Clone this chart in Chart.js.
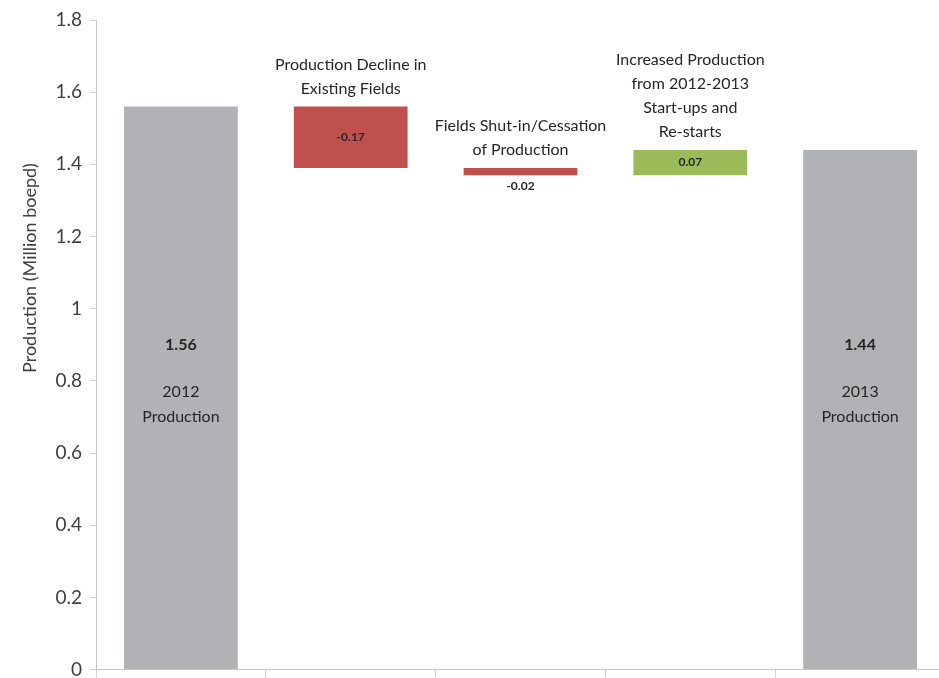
<!DOCTYPE html>
<html>
<head>
<meta charset="utf-8">
<script src="https://cdn.jsdelivr.net/npm/chart.js@4"></script>
<style>
  body { margin: 0; background: #fff; overflow: hidden; }
  #wrap { width: 939px; height: 678px; overflow: hidden; }
</style>
</head>
<body>
<div id="wrap"><canvas id="myChart" width="945" height="689"></canvas></div>
<script>
// data
const categories = [
    ['2012', 'Production'],
    ['Production Decline in', 'Existing Fields'],
    ['Fields Shut-in/Cessation', 'of Production'],
    ['Increased Production', 'from 2012-2013', 'Start-ups and', 'Re-starts'],
    ['2013', 'Production']
];
const startValue = 1.56;
const changes = [-0.17, -0.02, 0.07];
const endValue = 1.44;
const yTicks = [0, 0.2, 0.4, 0.6, 0.8, 1, 1.2, 1.4, 1.6, 1.8];

// build floating bars for the waterfall
let ranges = [[0, startValue]];
let running = startValue;
changes.forEach(c => {
    let next = Math.round((running + c) * 100) / 100;
    ranges.push([Math.min(running, next), Math.max(running, next)]);
    running = next;
});
ranges.push([0, endValue]);
const shown = [startValue].concat(changes, [endValue]);

const colors = shown.map((v, i) => {
    if (i == 0 || i == shown.length - 1) return '#b1b2b6';
    return v < 0 ? '#c0504d' : '#9bbb59';
});

const fontFam = 'Lato, "Noto Sans", sans-serif';

const labelPlugin = {
    id: 'labelPlugin',
    afterDatasetsDraw(chart) {
        const ctx = chart.ctx;
        const meta = chart.getDatasetMeta(0);
        const y = chart.scales.y;
        ctx.save();
        ctx.textAlign = 'center';
        ctx.textBaseline = 'middle';
        meta.data.forEach((bar, i) => {
            const top = Math.min(bar.y, bar.base);
            const bottom = Math.max(bar.y, bar.base);
            ctx.fillStyle = '#262626';
            if (i == 0 || i == meta.data.length - 1) {
                const ny = y.getPixelForValue(0.9);
                ctx.font = 'bold 16px ' + fontFam;
                ctx.fillText(shown[i].toFixed(2), bar.x, ny);
                ctx.font = '16px ' + fontFam;
                categories[i].forEach((line, k) => {
                    ctx.fillText(line, bar.x, ny + 47 + k * 25);
                });
            } else {
                ctx.font = 'bold 12px ' + fontFam;
                const txt = shown[i].toFixed(2);
                if (bottom - top > 18) {
                    ctx.fillText(txt, bar.x, (top + bottom) / 2);
                } else {
                    ctx.fillText(txt, bar.x, bottom + 11);
                }
                ctx.font = '16px ' + fontFam;
                const lines = categories[i];
                lines.forEach((line, k) => {
                    ctx.fillText(line, bar.x, top - 18 - (lines.length - 1 - k) * 24);
                });
            }
        });
        // axis title
        ctx.translate(30, 268);
        ctx.rotate(-Math.PI / 2);
        ctx.font = '18px ' + fontFam;
        ctx.fillStyle = '#404040';
        ctx.fillText('Production (Million boepd)', 0, 0);
        ctx.restore();
    }
};

const ctx = document.getElementById('myChart');
const myChart = new Chart(ctx, {
    type: 'bar',
    data: {
        labels: categories,
        datasets: [{
            data: ranges,
            backgroundColor: colors,
            borderWidth: 0,
            categoryPercentage: 1,
            barPercentage: 0.67
        }]
    },
    options: {
        responsive: false,
        animation: false,
        layout: { padding: { top: 20, right: 0, bottom: 0, left: 0 } },
        plugins: {
            legend: { display: false },
            tooltip: { enabled: false }
        },
        scales: {
            x: {
                offset: true,
                grid: { drawOnChartArea: false, tickLength: 8, color: '#d0d0d0', offset: true },
                border: { color: '#c8c8c8' },
                ticks: { display: false },
                afterFit(scale) { scale.height = 8; }
            },
            y: {
                min: 0,
                max: 1.8,
                afterBuildTicks(scale) { scale.ticks = yTicks.map(v => ({ value: v })); },
                grid: { drawOnChartArea: false, tickLength: 6, color: '#d0d0d0' },
                border: { color: '#c8c8c8' },
                ticks: {
                    color: '#404040',
                    padding: 8,
                    font: { family: fontFam, size: 19 },
                    callback: v => String(Math.round(v * 10) / 10)
                },
                afterFit(scale) { scale.width = 96; }
            }
        }
    },
    plugins: [labelPlugin]
});
</script>
</body>
</html>
